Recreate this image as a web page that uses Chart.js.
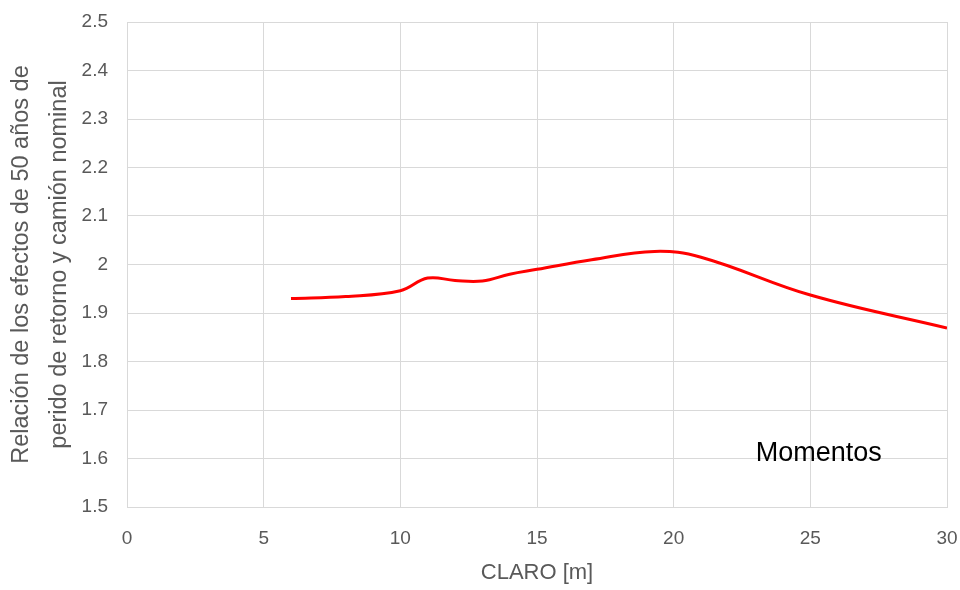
<!DOCTYPE html>
<html>
<head>
<meta charset="utf-8">
<script src="https://cdn.jsdelivr.net/npm/chart.js@4"></script>
<style>
  html, body { margin: 0; padding: 0; background: #fff; }
  #wrap { width: 960px; height: 590px; }
</style>
</head>
<body>
<div id="wrap"><canvas id="chart"></canvas></div>
<script>
// claro [m] y relación de efectos
const claro = [6, 8, 10, 11, 12, 13, 14, 15, 17, 19.3, 21, 25, 30];
const relacion = [1.930, 1.934, 1.946, 1.972, 1.967, 1.966, 1.980, 1.990, 2.010, 2.027, 2.015, 1.937, 1.869];
const etiqueta = "Momentos";

const puntos = claro.map((x, i) => ({ x: x, y: relacion[i] }));

const textoMomentos = {
    id: "textoMomentos",
    afterDraw(chart) {
        const c = chart.ctx;
        const xs = chart.scales.x, ys = chart.scales.y;
        c.save();
        c.font = "27px 'Liberation Sans', Arial, sans-serif";
        c.fillStyle = "#000";
        c.textAlign = "left";
        c.textBaseline = "middle";
        c.fillText(etiqueta, xs.getPixelForValue(23), ys.getPixelForValue(1.61));
        c.restore();
    }
};

const ctx = document.getElementById("chart").getContext("2d");
const chart = new Chart(ctx, {
    type: "scatter",
    data: {
        datasets: [{
            data: puntos,
            showLine: true,
            borderColor: "#ff0000",
            borderWidth: 3,
            pointRadius: 0,
            fill: false,
            tension: 0.4
        }]
    },
    options: {
        responsive: true,
        maintainAspectRatio: false,
        animation: false,
        layout: { padding: { top: 22, right: 13, left: 0, bottom: 0 } },
        plugins: { legend: { display: false }, tooltip: { enabled: false } },
        scales: {
            x: {
                min: 0, max: 30,
                ticks: { stepSize: 5, color: "#595959", font: { size: 19, family: "'Liberation Sans', Arial" }, padding: 20, maxRotation: 0 },
                grid: { color: "#d9d9d9", drawTicks: false },
                border: { color: "#d9d9d9" },
                title: { display: true, text: "CLARO [m]", color: "#595959", font: { size: 22, family: "'Liberation Sans', Arial" }, padding: { top: 17 } },
                afterFit(s) { s.height = 83; s.paddingLeft = 0; s.paddingRight = 0; }
            },
            y: {
                min: 1.5, max: 2.5,
                ticks: { stepSize: 0.1, color: "#595959", font: { size: 19, family: "'Liberation Sans', Arial" }, padding: 19,
                    callback: v => Math.round(v * 10) / 10 },
                grid: { color: "#d9d9d9", drawTicks: false },
                border: { color: "#d9d9d9" },
                title: { display: true, text: ["Relación de los efectos de 50 años de", "perido de retorno y camión nominal"], color: "#595959", font: { size: 23.5, family: "'Liberation Sans', Arial", lineHeight: 1.6 }, padding: { top: 3, bottom: 3 } },
                afterFit(s) { s.width = 127; s.paddingTop = 0; s.paddingBottom = 0; }
            }
        }
    },
    plugins: [textoMomentos]
});
</script>
</body>
</html>
